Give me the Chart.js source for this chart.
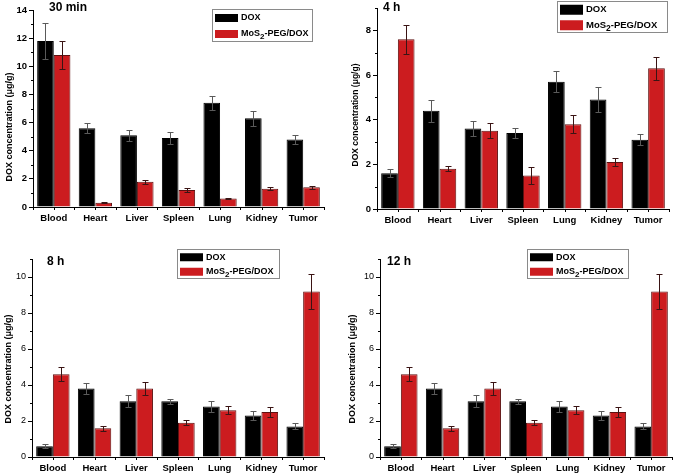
<!DOCTYPE html>
<html>
<head>
<meta charset="utf-8">
<script src="https://cdn.jsdelivr.net/npm/chart.js@4.4.1/dist/chart.umd.min.js"></script>
<style>
  body { margin: 0; background: #fff; }
  .panel { position: absolute; }
  canvas { display: block; }
</style>
</head>
<body>
<div class="panel" style="left:0;top:0"><canvas id="c30" width="333" height="235"></canvas></div>
<div class="panel" style="left:333px;top:0"><canvas id="c4" width="340" height="235"></canvas></div>
<div class="panel" style="left:0;top:240px"><canvas id="c8" width="333" height="234"></canvas></div>
<div class="panel" style="left:333px;top:240px"><canvas id="c12" width="340" height="234"></canvas></div>
<script>
// organs on the x axis
var organs = ["Blood", "Heart", "Liver", "Spleen", "Lung", "Kidney", "Tumor"];
var seriesNames = ["DOX", "MoS\u2082-PEG/DOX"];
var yTitle = "DOX concentration (\u03bcg/g)";

// 30 min
var dox30 = [11.8, 5.6, 5.1, 4.9, 7.4, 6.3, 4.8];
var dox30Err = [1.3, 0.35, 0.4, 0.45, 0.5, 0.55, 0.35];
var mos30 = [10.8, 0.3, 1.8, 1.2, 0.6, 1.3, 1.4];
var mos30Err = [1.0, 0.02, 0.15, 0.12, 0.05, 0.1, 0.1];

// 4 h
var dox4 = [1.6, 4.4, 3.6, 3.4, 5.7, 4.9, 3.1];
var dox4Err = [0.18, 0.5, 0.32, 0.22, 0.48, 0.55, 0.24];
var mos4 = [7.6, 1.8, 3.5, 1.5, 3.8, 2.1, 6.3];
var mos4Err = [0.65, 0.12, 0.34, 0.39, 0.4, 0.17, 0.52];

// 8 h
var dox8 = [0.6, 3.8, 3.1, 3.1, 2.8, 2.3, 1.7];
var dox8Err = [0.1, 0.32, 0.34, 0.13, 0.3, 0.27, 0.17];
var mos8 = [4.6, 1.6, 3.8, 1.9, 2.6, 2.5, 9.2];
var mos8Err = [0.38, 0.15, 0.38, 0.13, 0.22, 0.28, 0.95];

// 12 h
var dox12 = [0.6, 3.8, 3.1, 3.1, 2.8, 2.3, 1.7];
var dox12Err = [0.1, 0.32, 0.34, 0.13, 0.3, 0.27, 0.17];
var mos12 = [4.6, 1.6, 3.8, 1.9, 2.6, 2.5, 9.2];
var mos12Err = [0.38, 0.15, 0.38, 0.13, 0.22, 0.28, 0.95];

var FONT = '"Liberation Sans", Arial, sans-serif';

// error bars on top of the bars
var errorBars = {
  id: "errorBars",
  afterDatasetsDraw: function (chart) {
    var ctx = chart.ctx;
    var y = chart.scales.y;
    ctx.save();
    chart.data.datasets.forEach(function (ds, i) {
      var meta = chart.getDatasetMeta(i);
      ctx.strokeStyle = ds.errColor;
      ctx.lineWidth = 1;
      meta.data.forEach(function (bar, j) {
        var v = ds.data[j], e = ds.err[j];
        var x = Math.round(bar.x) + 0.5;
        var top = Math.round(y.getPixelForValue(v + e)) + 0.5;
        var bot = Math.round(y.getPixelForValue(v - e)) + 0.5;
        ctx.beginPath();
        ctx.moveTo(x, top); ctx.lineTo(x, bot);
        ctx.moveTo(x - 3, top); ctx.lineTo(x + 3, top);
        ctx.moveTo(x - 3, bot); ctx.lineTo(x + 3, bot);
        ctx.stroke();
      });
    });
    ctx.restore();
  }
};

// minor ticks, titles, legend box
var decor = {
  id: "decor",
  afterDraw: function (chart, args, o) {
    var ctx = chart.ctx;
    var x = chart.scales.x, y = chart.scales.y;
    var ca = chart.chartArea;
    ctx.save();
    ctx.strokeStyle = "#000";
    ctx.lineWidth = 1;
    for (var v = 1; v <= y.max; v += 2) {
      var py = Math.round(y.getPixelForValue(v)) + 0.5;
      ctx.beginPath(); ctx.moveTo(ca.left - 2, py); ctx.lineTo(ca.left, py); ctx.stroke();
    }
    for (var i = 0; i < x.ticks.length; i++) {
      var px = Math.round(x.getPixelForTick(i)) + 0.5;
      ctx.beginPath(); ctx.moveTo(px, ca.bottom); ctx.lineTo(px, ca.bottom + 3); ctx.stroke();
    }

    ctx.fillStyle = "#000";
    ctx.textBaseline = "middle";
    ctx.textAlign = "left";
    ctx.font = "bold 12px " + FONT;
    ctx.fillText(o.title, o.titleX, o.titleY);

    ctx.save();
    ctx.translate(o.yTitleX, o.yTitleY);
    ctx.rotate(-Math.PI / 2);
    ctx.textAlign = "center";
    ctx.font = "bold " + o.yTitleSize + "px " + FONT;
    ctx.fillText(yTitle, 0, 0);
    ctx.restore();

    // legend
    var L = o.legend;
    ctx.strokeStyle = "#8a8a8a";
    ctx.strokeRect(L.x + 0.5, L.y + 0.5, L.w, L.h);
    var rowH = L.h / 2;
    chart.data.datasets.forEach(function (ds, k) {
      var cy = L.y + rowH * k + rowH / 2 + 1;
      ctx.fillStyle = ds.backgroundColor;
      ctx.fillRect(L.x + 3, cy - L.sw / 2, 23, L.sw);
      ctx.fillStyle = "#000";
      ctx.font = "bold " + L.size + "px " + FONT;
      var parts = ds.label.split("\u2082");
      var tx = L.x + 29;
      ctx.fillText(parts[0], tx, cy);
      if (parts.length > 1) {
        tx += ctx.measureText(parts[0]).width;
        ctx.font = "bold " + (L.size - 1) + "px " + FONT;
        ctx.fillText("2", tx, cy + 3);
        tx += ctx.measureText("2").width;
        ctx.font = "bold " + L.size + "px " + FONT;
        ctx.fillText(parts[1], tx, cy);
      }
    });
    ctx.restore();
  }
};

function makeChart(id, dox, doxErr, mos, mosErr, cfg) {
  return new Chart(document.getElementById(id).getContext("2d"), {
    type: "bar",
    data: {
      labels: organs,
      datasets: [
        { label: seriesNames[0], data: dox, err: doxErr, backgroundColor: "#000000",
          borderColor: "#000000", borderWidth: 1, errColor: "#5a5a5a" },
        { label: seriesNames[1], data: mos, err: mosErr, backgroundColor: "#cc1c1f",
          borderColor: "#5e1010", borderWidth: 1, errColor: "#3a1414" }
      ]
    },
    options: {
      responsive: false,
      devicePixelRatio: 1,
      animation: false,
      layout: { padding: { top: cfg.top, right: cfg.right, left: 0, bottom: 0 } },
      datasets: { bar: { categoryPercentage: 0.8, barPercentage: 1.0 } },
      plugins: {
        legend: { display: false },
        tooltip: { enabled: false },
        decor: cfg.decor
      },
      scales: {
        x: {
          offset: true,
          grid: { drawOnChartArea: false, offset: true, tickLength: 3, color: "#000" },
          border: { color: "#000", width: 1 },
          ticks: { color: "#000", padding: 3, maxRotation: 0, autoSkip: false,
                   font: { family: FONT, size: 9.5, weight: "bold" } },
          afterFit: function (s) { s.height = cfg.xHeight; }
        },
        y: {
          min: 0,
          max: cfg.yMax,
          grid: { drawOnChartArea: false, tickLength: 4, color: "#000" },
          border: { color: "#000", width: 1 },
          ticks: { stepSize: 2, includeBounds: false, color: "#000", padding: 2,
                   font: { family: FONT, size: cfg.tickSize, weight: cfg.tickWeight } },
          afterFit: function (s) { s.width = cfg.yWidth; }
        }
      }
    },
    plugins: [errorBars, decor]
  });
}

makeChart("c30", dox30, dox30Err, mos30, mos30Err, {
  yMax: 14, top: 10, right: 9, yWidth: 33, xHeight: 28, tickSize: 9.5, tickWeight: "bold",
  decor: { title: "30 min", titleX: 49, titleY: 8, yTitleX: 10, yTitleY: 127, yTitleSize: 9,
           legend: { x: 212, y: 9, w: 100, h: 32, sw: 8, size: 9 } }
});
makeChart("c4", dox4, dox4Err, mos4, mos4Err, {
  yMax: 9, top: 8, right: 4, yWidth: 44, xHeight: 26, tickSize: 9.5, tickWeight: "bold",
  decor: { title: "4 h", titleX: 50, titleY: 8, yTitleX: 23, yTitleY: 115, yTitleSize: 8.5,
           legend: { x: 224, y: 1, w: 110, h: 31, sw: 10, size: 9.5 } }
});
makeChart("c8", dox8, dox8Err, mos8, mos8Err, {
  yMax: 11, top: 19, right: 9, yWidth: 32, xHeight: 17, tickSize: 9, tickWeight: "normal",
  decor: { title: "8 h", titleX: 47, titleY: 22, yTitleX: 9, yTitleY: 129, yTitleSize: 9,
           legend: { x: 177, y: 9, w: 102, h: 29, sw: 8, size: 9 } }
});
makeChart("c12", dox12, dox12Err, mos12, mos12Err, {
  yMax: 11, top: 19, right: 1, yWidth: 47, xHeight: 17, tickSize: 9, tickWeight: "normal",
  decor: { title: "12 h", titleX: 54, titleY: 22, yTitleX: 20, yTitleY: 129, yTitleSize: 9,
           legend: { x: 194, y: 9, w: 101, h: 29, sw: 8, size: 9 } }
});
</script>
</body>
</html>
